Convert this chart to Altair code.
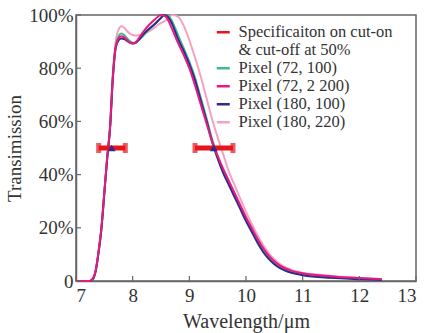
import altair as alt
import pandas as pd

# ---------------- data ----------------
wavelength = [7.0, 7.2, 7.25, 7.3, 7.35, 7.4, 7.45, 7.5, 7.55, 7.6,
              7.65, 7.7, 7.75, 7.8, 7.85, 7.9, 7.95, 8.0, 8.05, 8.1,
              8.2, 8.3, 8.4, 8.5, 8.55, 8.6, 8.65, 8.7, 8.8, 8.9,
              9.0, 9.1, 9.2, 9.3, 9.4, 9.5, 9.6, 9.7, 9.8, 9.9,
              10.0, 10.1, 10.2, 10.3, 10.4, 10.5, 10.6, 10.7, 10.8, 11.0,
              11.5, 12.0, 12.4]

pixel_72_100 = [0, 0, 0, 0.8, 4, 11, 20, 33, 46, 57.5,
                77, 88.5, 92, 93, 92.5, 91.3, 90.2, 89.6, 89.6, 90.4,
                92.5, 94.8, 96.8, 98.8, 99.8, 100, 99.2, 97.5, 92.5, 87.5,
                82.5, 76.5, 69, 61.5, 53.5, 47, 41.5, 37, 32.3, 27.8,
                23.2, 19.2, 15.2, 11.6, 8.8, 6.7, 5.1, 4.0, 3.3, 2.4,
                1.3, 0.8, 0.5]

pixel_72_2200 = [0, 0, 0.1, 1, 4.3, 11.5, 20.5, 33.5, 46.5, 57.5,
                 76.5, 88, 91.2, 92, 91.6, 90.6, 89.7, 89.3, 89.7, 91,
                 94, 96.5, 98.5, 100, 99.8, 99, 97, 94.5, 89.5, 85,
                 80, 73.5, 66.5, 59.5, 52.5, 47, 42, 37.5, 33, 28.5,
                 24, 20, 16, 12.5, 9.6, 7.4, 5.8, 4.7, 3.9, 2.9,
                 1.8, 1.1, 0.7]

pixel_180_100 = [0, 0, 0, 0.8, 4, 11, 20, 33, 46, 57,
                 76, 87.5, 90.5, 91.2, 91, 90.3, 89.6, 89.3, 89.5, 90.5,
                 93, 95, 96.8, 99, 100, 99.7, 98.5, 96.5, 91, 86.5,
                 81.5, 75.5, 68, 60.5, 52.5, 46, 40.5, 36, 31.5, 27,
                 22.5, 18.5, 14.5, 11, 8.3, 6.3, 4.8, 3.8, 3.1, 2.2,
                 1.2, 0.7, 0.4]

pixel_180_220 = [0, 0, 0, 0.8, 4, 11, 20, 33, 46, 58,
                 78, 90, 94.5, 95.8, 95.3, 94, 93, 92.5, 92.3, 92.4,
                 93, 94, 95.5, 97, 97.5, 98.3, 99.3, 100, 99.4, 96,
                 90.5, 84, 77, 69, 61, 54, 47.5, 41, 36, 31,
                 26, 21.5, 17.3, 13.6, 10.5, 8.2, 6.4, 5.1, 4.2, 3.1,
                 1.9, 1.1, 0.7]

series_names = ["Pixel (72, 100)", "Pixel (72, 2 200)", "Pixel (180, 100)", "Pixel (180, 220)"]
series_values = [pixel_72_100, pixel_72_2200, pixel_180_100, pixel_180_220]
series_colors = ["#3dbb8a", "#e8197f", "#2e2b8f", "#f7a1c1"]
draw_order = ["Pixel (180, 220)", "Pixel (72, 100)", "Pixel (180, 100)", "Pixel (72, 2 200)"]

spec_lo = [7.40, 9.10]
spec_hi = [7.87, 9.77]
spec_mid = [7.63, 9.43]
spec_level = [50, 50]
spec_label_1 = "Specificaiton on cut-on"
spec_label_2 = "& cut-off at 50%"
spec_color = "#e8141c"

x_ticks = [7, 8, 9, 10, 11, 12, 13]
y_ticks = [0, 20, 40, 60, 80, 100]

legend_keys = ["spec", "spec2"] + series_names
legend_colors = [spec_color, "#ffffff"] + series_colors

FONT = "Liberation Serif"
TEXT = "#333333"
FRAME = "#666666"

# ---------------- tables ----------------
rows = []
for name, vals in zip(series_names, series_values):
    for w, v in zip(wavelength, vals):
        rows.append({"wl": w, "T": v, "series": name})
df = pd.DataFrame(rows)
spec_df = pd.DataFrame({"lo": spec_lo, "hi": spec_hi, "mid": spec_mid, "y": spec_level})
xt_df = pd.DataFrame({"v": x_ticks})
yt_df = pd.DataFrame({"v": y_ticks})

x_scale = alt.Scale(domain=[7, 13], nice=False, zero=False)
y_scale = alt.Scale(domain=[0, 100], nice=False)
color_scale = alt.Scale(domain=legend_keys, range=legend_colors)

x_axis = alt.Axis(values=x_ticks, format="d", title="Wavelength/μm", grid=False,
                  ticks=False, labelPadding=5, titlePadding=6,
                  labelFontSize=19, titleFontSize=20)
y_axis = alt.Axis(values=y_ticks, title="Transimission", grid=False,
                  ticks=False, labelPadding=3, titlePadding=4,
                  labelFontSize=19, titleFontSize=19,
                  labelExpr="datum.value == 0 ? '0' : datum.value + '%'")

legend = alt.Legend(
    title=None, orient="none", legendX=139, legendY=9, padding=0,
    symbolType="stroke", symbolSize=169, symbolStrokeWidth=2.5,
    labelFontSize=16.5, labelFont=FONT, labelColor=TEXT, labelOffset=7,
    rowPadding=1,
    labelExpr=("datum.value == 'spec' ? '" + spec_label_1 + "' : "
               "datum.value == 'spec2' ? '" + spec_label_2 + "' : datum.label"),
)

layers = []
for name in draw_order:
    layers.append(
        alt.Chart(df).transform_filter(alt.datum.series == name)
        .mark_line(strokeWidth=2, interpolate="monotone")
        .encode(x=alt.X("wl:Q", scale=x_scale, axis=x_axis),
                y=alt.Y("T:Q", scale=y_scale, axis=y_axis),
                color=alt.Color("series:N", scale=color_scale, legend=legend))
    )

spec_bar = alt.Chart(spec_df).mark_rule(strokeWidth=5, color=spec_color).encode(
    x=alt.X("lo:Q", scale=x_scale), x2="hi:Q", y=alt.Y("y:Q", scale=y_scale))
spec_caps = alt.Chart(spec_df).transform_fold(["lo", "hi"], as_=["end", "xpos"]).mark_tick(
    orient="vertical", size=10, thickness=5, color=spec_color).encode(
    x=alt.X("xpos:Q", scale=x_scale), y=alt.Y("y:Q", scale=y_scale))
spec_mark = alt.Chart(spec_df).mark_point(shape="triangle-up", filled=True, size=60,
                                          color="#2e2b8f", opacity=1).encode(
    x=alt.X("mid:Q", scale=x_scale), y=alt.Y("y:Q", scale=y_scale))

x_tick_marks = alt.Chart(xt_df).mark_rule(color=FRAME, strokeWidth=1.2).encode(
    x=alt.X("v:Q", scale=x_scale), y=alt.value(266), y2=alt.value(261))
y_tick_marks = alt.Chart(yt_df).mark_rule(color=FRAME, strokeWidth=1.2).encode(
    y=alt.Y("v:Q", scale=y_scale), x=alt.value(0), x2=alt.value(5))

chart = alt.layer(*layers, spec_bar, spec_caps, spec_mark, x_tick_marks, y_tick_marks).properties(
    width=340, height=266,
    autosize=alt.AutoSizeParams(type="none"),
    padding={"left": 76, "top": 15, "right": 11, "bottom": 52},
    background="white",
).configure(font=FONT).configure_view(stroke=FRAME, strokeWidth=1.5).configure_axis(
    labelFont=FONT, titleFont=FONT, labelColor=TEXT, titleColor=TEXT,
    titleFontWeight="normal", domainColor=FRAME, domainWidth=1.5)

chart.save("out.html", embed_options={"renderer": "svg", "actions": False})
